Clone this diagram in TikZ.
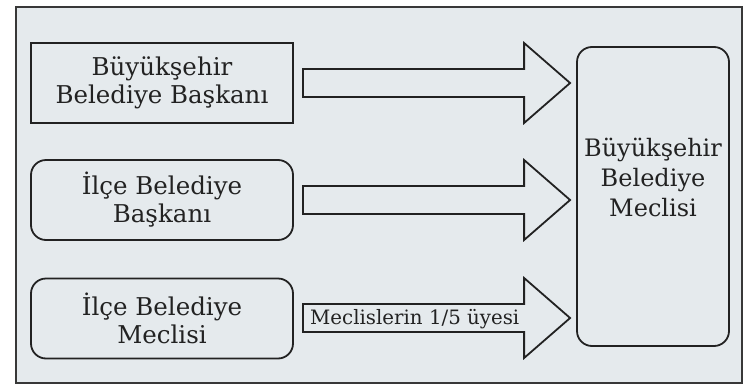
\documentclass[tikz,border=0pt]{standalone}
\usepackage{fontspec}
\setmainfont{DejaVu Serif}
\usetikzlibrary{calc}
\definecolor{bgc}{HTML}{E5EAED}
\definecolor{ink}{HTML}{222222}
\tikzset{
  boxA/.style={draw=ink, line width=1.8pt, minimum width=262pt, minimum height=80pt, align=center, text=ink, font=\fontsize{24.5}{28}\selectfont},
  boxR/.style={boxA, rounded corners=15pt},
  bigbox/.style={draw=ink, line width=1.8pt, rounded corners=15pt, minimum width=152pt, minimum height=299pt},
  txt/.style={align=center, text=ink, font=\fontsize{24}{30}\selectfont},
  fatarrow/.style={draw=ink, line width=1.8pt, line join=miter},
  lbl/.style={text=ink, font=\fontsize{19.8}{22}\selectfont, inner sep=0pt}
}
\begin{document}
\begin{tikzpicture}[x=1pt,y=-1pt]
\useasboundingbox (0,0) rectangle (745,386);
\draw[fill=bgc, draw=ink!90, line width=1.8pt] (16,7) rectangle (742,383);
\node[boxA] (b1) at (162,83) {Büyükşehir\\Belediye Başkanı};
\node[boxR] (b2) at (162,200) {İlçe Belediye\\Başkanı};
\node[boxR] (b3) at (162,318.5) {İlçe Belediye\\Meclisi};
\node[bigbox] (bbm) at (653,196.5) {};
\node[txt] (bbmt) at (653,177) {Büyükşehir\\Belediye\\Meclisi};
% arrows
\foreach \s/\c in {b1/83,b2/200,b3/318}{
  \draw[fatarrow] ($(\s.east |- 0,\c)+(9,-14)$) -- ($(bbm.west |- 0,\c)+(-52,-14)$)
    -- ($(bbm.west |- 0,\c)+(-52,-40)$) -- ($(bbm.west |- 0,\c)+(-6,0)$)
    -- ($(bbm.west |- 0,\c)+(-52,40)$) -- ($(bbm.west |- 0,\c)+(-52,14)$)
    -- ($(\s.east |- 0,\c)+(9,14)$) -- cycle;
}
\node[lbl, anchor=base west] (l3) at (310,324) {Meclislerin 1/5 üyesi};
\end{tikzpicture}
\end{document}
